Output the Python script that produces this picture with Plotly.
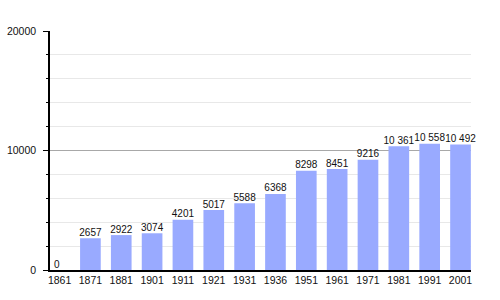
import plotly.graph_objects as go

years = ["1861", "1871", "1881", "1901", "1911", "1921", "1931", "1936",
         "1951", "1961", "1971", "1981", "1991", "2001"]
population = [0, 2657, 2922, 3074, 4201, 5017, 5588, 6368,
              8298, 8451, 9216, 10361, 10558, 10492]
labels = [f"{v:,}".replace(",", " ") if v >= 10000 else str(v) for v in population]
positions = ["top left" if v == 0 else "top center" for v in population]

fig = go.Figure()
fig.add_trace(go.Bar(
    x=years, y=population, marker=dict(color="#99aaff", line=dict(width=0)),
    width=0.67, hoverinfo="skip",
))
fig.add_trace(go.Scatter(
    x=years, y=population, mode="text", text=labels,
    textposition=positions, textfont=dict(size=10, color="#111"),
    hoverinfo="skip", cliponaxis=False,
))
fig.update_layout(
    width=500, height=300, margin=dict(l=50, r=29, t=31, b=30),
    paper_bgcolor="white", plot_bgcolor="white", showlegend=False,
    font=dict(family="Liberation Sans, Arial, sans-serif", size=10, color="#111"),
)
fig.update_xaxes(
    type="category", range=[-0.31, 13.34], showline=True, linecolor="black",
    linewidth=1.5, showgrid=False, ticks="", tickfont=dict(size=10.5),
    automargin=False,
)
fig.update_yaxes(
    range=[0, 20000], dtick=10000, showline=True, linecolor="black",
    linewidth=1.5, gridcolor="#a8a8a8", gridwidth=1, ticks="outside",
    ticklen=5, tickcolor="black", zeroline=False, tickformat="d",
    ticklabelstandoff=5, automargin=False, tickfont=dict(size=10.5),
    minor=dict(dtick=2000, showgrid=True, gridcolor="#e8e8e8",
               ticks="outside", ticklen=2, tickcolor="black"),
)
fig.write_html("out.html")
